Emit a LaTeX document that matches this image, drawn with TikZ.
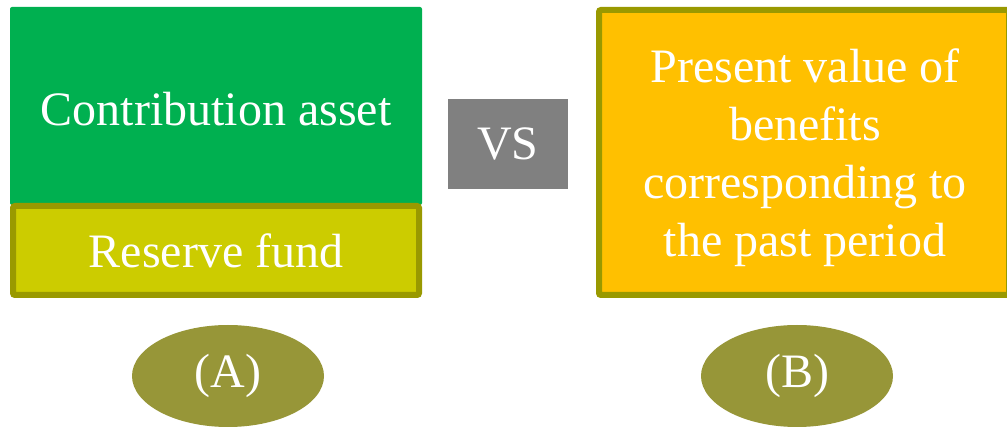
\documentclass[tikz,border=0pt]{standalone}
\usepackage{fontspec}
\setmainfont{Liberation Serif}
\usetikzlibrary{shapes.geometric}

\definecolor{boxgreen}{RGB}{0,176,80}
\definecolor{boxlime}{RGB}{204,204,0}
\definecolor{boxolive}{RGB}{153,153,0}
\definecolor{boxgold}{RGB}{255,192,0}
\definecolor{ovalolive}{RGB}{151,150,56}

\tikzset{
  txt/.style={text=white,align=center,inner sep=0pt,
    font=\fontsize{48}{58}\selectfont},
  fillbox/.style={txt,rectangle,rounded corners=2pt},
  edgebox/.style={fillbox,draw=boxolive,line width=6pt},
  oval/.style={txt,ellipse,fill=ovalolive,minimum width=192pt,minimum height=102pt}
}

\begin{document}
\begin{tikzpicture}[x=1pt,y=-1pt]

\useasboundingbox (0,0) rectangle (1007,427);

% left column
\node[fillbox,fill=boxgreen,minimum width=412pt,minimum height=198pt] (contrib) at (216,106) {};
\node[txt] (contribtext) at (216,109) {Contribution asset};

\node[edgebox,fill=boxlime,minimum width=406pt,minimum height=89pt] (reserve) at (216,250.5) {Reserve fund};

\node[fillbox,rounded corners=0pt,fill=gray,minimum width=120pt,minimum height=90pt] (vs) at (508,144) {VS};

% right column
\node[edgebox,fill=boxgold,minimum width=410pt,minimum height=285pt] (pvb) at (804,152.5) {};
\node[txt] (pvbtext) at (805,158)
  {Present value of\\benefits\\corresponding to\\the past period};

\node[oval] (labA) at (228,376) {(A)};
\node[oval] (labB) at (797,376) {(B)};

\end{tikzpicture}
\end{document}
